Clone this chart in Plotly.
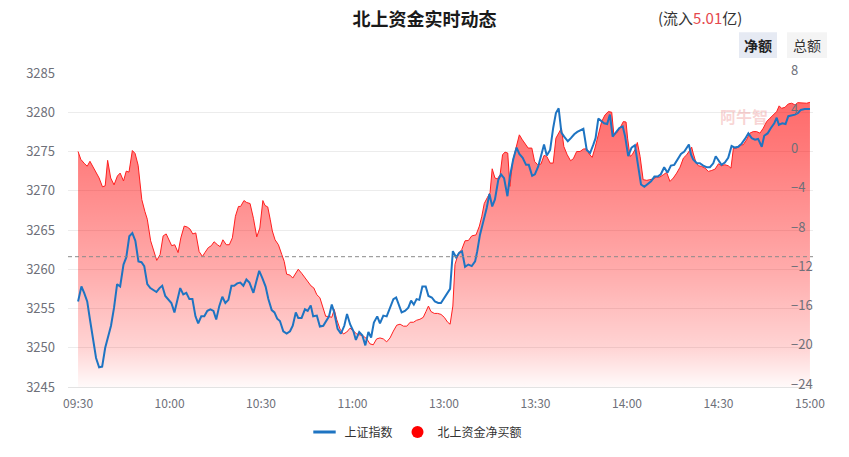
import plotly.graph_objects as go

# ---------------- data ----------------
TITLE = "北上资金实时动态"
TIME_LABELS = ["09:30", "10:00", "10:30", "11:00", "13:00", "13:30", "14:00", "14:30", "15:00"]
TICK_MIN = [0, 30, 60, 90, 120, 150, 180, 210, 240]
PREV_CLOSE = 3261.6
IDX_AXIS = [3245, 3285]
NET_AXIS = [-24, 8]

NET_MIN = [
    0.0, 0.9, 2.0, 3.0, 3.9, 4.8, 5.9, 6.9, 8.0, 8.9,
    9.7, 10.7, 11.8, 12.9, 13.8, 14.9, 15.8, 16.7, 17.8, 18.7,
    19.7, 20.9, 21.9, 22.7, 23.8, 24.9, 25.8, 26.9, 27.9, 28.9,
    29.8, 30.7, 31.7, 32.8, 33.7, 34.8, 35.8, 36.7, 37.6, 38.6,
    39.7, 40.8, 41.6, 42.7, 43.7, 44.6, 45.7, 46.6, 47.5, 48.6,
    49.6, 50.6, 51.6, 52.6, 53.3, 54.4, 55.3, 56.4, 57.5, 58.6,
    59.6, 60.6, 61.3, 62.2, 63.0, 63.7, 64.6, 65.7, 66.8, 67.6,
    68.4, 69.5, 70.4, 71.4, 72.2, 73.3, 74.4, 75.5, 76.4, 77.3,
    78.3, 79.3, 80.2, 81.2, 82.1, 83.2, 84.0, 84.8, 85.9, 87.0,
    88.1, 89.2, 90.3, 91.4, 92.5, 93.5, 94.7, 95.7, 96.8, 97.9,
    99.0, 100.1, 101.2, 102.3, 103.4, 104.5, 105.6, 106.7, 107.8, 108.9,
    110.0, 111.0, 112.1, 113.2, 114.1, 114.9, 115.7, 116.8, 117.9, 119.0,
    120.1, 121.2, 122.0, 122.9, 123.6, 124.7, 125.8, 126.9, 128.0, 129.1,
    130.5, 131.6, 132.4, 133.2, 134.2, 135.1, 135.8, 136.7, 137.5, 138.4,
    139.2, 140.0, 140.9, 141.6, 142.5, 143.6, 144.7, 145.7, 146.7, 147.6,
    148.8, 149.7, 150.7, 151.8, 152.8, 153.7, 154.8, 155.8, 156.7, 157.7,
    158.5, 159.3, 160.4, 161.5, 162.4, 163.5, 164.6, 165.7, 166.8, 167.6,
    168.6, 169.5, 170.6, 171.7, 172.8, 173.9, 175.0, 175.7, 176.6, 177.7,
    178.8, 179.7, 180.2, 181.0, 181.7, 182.6, 183.4, 184.3, 185.3, 186.5,
    187.5, 188.6, 189.7, 190.8, 191.9, 193.0, 194.1, 195.2, 196.3, 197.4,
    198.5, 199.6, 200.7, 201.2, 201.7, 202.5, 203.4, 204.5, 205.6, 206.7,
    207.8, 208.9, 210.0, 211.0, 212.1, 213.2, 214.1, 214.9, 216.0, 217.0,
    218.1, 219.2, 220.3, 221.4, 222.5, 223.6, 224.7, 225.8, 226.9, 228.0,
    229.1, 229.9, 230.7, 231.8, 232.9, 234.0, 235.1, 236.0, 237.3, 238.9,
    240.0,
]
NET_VAL = [
    0.0, -0.8, -1.2, -1.5, -1.0, -1.5, -2.0, -2.7, -3.6, -3.5,
    -0.9, -2.7, -3.4, -2.5, -2.2, -3.0, -2.0, -2.1, 0.1, -0.2,
    -1.4, -4.9, -6.1, -6.9, -9.1, -10.3, -11.1, -10.5, -8.6, -8.4,
    -9.1, -9.6, -9.5, -10.3, -8.8, -7.6, -7.7, -7.9, -8.4, -8.3,
    -10.2, -10.7, -10.3, -9.8, -9.6, -9.2, -9.5, -9.7, -9.0, -9.5,
    -9.5, -8.8, -6.6, -5.6, -5.6, -5.0, -5.2, -5.3, -6.8, -8.7,
    -7.8, -5.0, -5.5, -5.65, -6.9, -8.1, -9.0, -9.5, -10.5, -11.2,
    -12.5, -12.6, -12.9, -12.4, -12.0, -12.4, -12.9, -13.4, -13.7, -13.9,
    -14.6, -14.9, -15.75, -16.8, -16.8, -16.9, -16.1, -17.1, -18.1, -18.6,
    -18.4, -18.0, -18.3, -18.6, -18.7, -18.8, -19.1, -19.6, -19.7, -19.1,
    -19.0, -19.1, -19.4, -19.0, -18.3, -17.7, -17.6, -17.8, -17.8, -17.4,
    -17.4, -17.2, -17.1, -16.9, -16.3, -15.75, -16.3, -16.5, -16.5, -16.6,
    -16.9, -17.4, -17.6, -15.75, -11.5, -10.4, -10.0, -9.1, -9.07, -8.6,
    -8.5, -7.6, -6.6, -5.3, -4.7, -4.2, -1.76, -2.7, -2.8, -2.37,
    -0.33, -0.06, -0.16, -3.56, -1.01, 0.35, 1.7, 1.19, 0.68, 0.35,
    0.35, -1.01, -1.35, -1.28, -0.4, -0.5, -1.18, -1.18, 1.36, 1.97,
    2.38, 0.5, -0.33, -0.94, -0.74, 0.0, 0.0, 0.25, 0.28, -0.26,
    -0.6, 0.35, 1.7, 3.05, 3.73, 4.07, 4.0, 1.7, 1.87, 2.38,
    3.05, 3.0, 1.36, -0.5, -0.33, 0.18, 0.92, -0.5, -2.87, -2.94,
    -2.87, -2.8, -2.6, -2.6, -2.37, -2.13, -3.05, -2.7, -2.2, -1.6,
    -0.67, -0.33, 0.18, 0.45, -0.16, -1.0, -1.45, -1.52, -1.7, -2.03,
    -1.93, -1.79, -1.25, -1.45, -1.35, -1.45, -1.7, 0.35, 0.35, 0.68,
    0.68, 1.19, 1.87, 2.03, 2.03, 1.87, 2.38, 3.05, 3.4, 3.73,
    4.07, 4.65, 4.4, 4.5, 4.85, 4.92, 4.75, 4.98, 4.92, 4.92,
    5.01,
]

IDX_MIN = [
    0.0, 1.1, 2.0, 3.0, 3.9, 4.9, 5.9, 6.9, 7.9, 8.9,
    9.8, 10.8, 11.8, 12.8, 13.8, 14.9, 15.8, 16.8, 17.8, 18.8,
    19.8, 20.8, 21.7, 22.7, 23.7, 24.7, 25.7, 26.7, 27.6, 28.6,
    29.6, 30.6, 31.6, 32.6, 33.5, 34.5, 35.5, 36.5, 37.5, 38.5,
    39.4, 40.4, 41.4, 42.4, 43.4, 44.4, 45.3, 46.3, 47.3, 48.3,
    49.3, 50.3, 51.2, 52.2, 53.2, 54.2, 55.2, 56.2, 57.5, 58.5,
    59.4, 60.4, 61.5, 62.4, 63.5, 64.4, 65.3, 66.2, 67.3, 68.4,
    69.5, 70.4, 71.4, 72.2, 73.3, 74.4, 75.3, 76.3, 77.1, 78.3,
    79.3, 80.4, 81.3, 82.3, 83.2, 84.0, 85.1, 86.2, 87.3, 88.2,
    89.2, 90.3, 91.1, 92.2, 93.2, 94.2, 95.2, 96.1, 97.0, 98.1,
    99.0, 100.1, 101.2, 102.3, 103.4, 104.3, 105.2, 106.1, 107.2, 108.3,
    109.2, 110.1, 111.0, 111.9, 112.9, 114.0, 114.9, 116.0, 117.0, 118.1,
    119.0, 120.1, 121.2, 122.0, 122.9, 124.0, 125.0, 125.9, 126.9, 128.0,
    129.1, 130.2, 130.9, 131.8, 132.9, 134.0, 134.9, 135.8, 136.7, 137.8,
    138.7, 139.7, 140.8, 141.6, 142.7, 143.8, 144.7, 145.8, 146.9, 147.8,
    148.9, 149.8, 150.9, 151.8, 152.8, 153.7, 154.8, 155.8, 156.7, 157.6,
    158.5, 159.4, 160.6, 161.6, 162.7, 163.7, 164.6, 165.7, 166.8, 167.9,
    169.0, 169.7, 170.6, 171.5, 172.5, 173.5, 174.4, 175.3, 176.4, 177.5,
    178.6, 179.4, 180.4, 181.5, 182.6, 183.7, 184.6, 185.7, 186.8, 187.9,
    189.0, 190.1, 191.1, 192.2, 193.3, 194.4, 195.5, 196.6, 197.7, 198.8,
    199.6, 200.3, 201.0, 201.7, 202.9, 203.9, 205.0, 206.1, 207.2, 208.3,
    209.1, 210.0, 211.0, 212.1, 213.2, 214.3, 215.4, 216.5, 217.6, 218.7,
    219.8, 220.9, 222.0, 223.0, 224.2, 225.0, 226.1, 227.2, 228.3, 229.1,
    229.8, 230.9, 232.0, 232.9, 234.0, 235.1, 236.1, 237.0, 238.3, 240.0,
]
IDX_VAL = [
    3255.9, 3257.8, 3257.0, 3255.9, 3253.6, 3251.1, 3248.7, 3247.5, 3247.6, 3250.0,
    3251.3, 3252.8, 3255.1, 3258.1, 3257.8, 3260.6, 3261.5, 3264.2, 3264.6, 3263.6,
    3261.0, 3260.9, 3260.4, 3258.1, 3257.6, 3257.3, 3257.1, 3257.6, 3257.9, 3256.6,
    3256.2, 3255.7, 3254.5, 3256.2, 3257.6, 3256.8, 3257.0, 3256.2, 3256.2, 3254.0,
    3253.1, 3254.0, 3254.0, 3254.7, 3254.9, 3254.7, 3253.6, 3255.3, 3256.5, 3255.7,
    3256.1, 3257.9, 3257.9, 3258.2, 3258.3, 3257.9, 3258.7, 3258.3, 3257.0, 3258.5,
    3259.8, 3258.9, 3257.8, 3256.2, 3254.8, 3254.5, 3253.7, 3253.4, 3252.1, 3251.8,
    3252.1, 3252.8, 3254.5, 3253.8, 3253.8, 3254.9, 3254.7, 3255.4, 3254.0, 3254.1,
    3252.7, 3252.8, 3253.3, 3254.0, 3255.5, 3254.5, 3252.4, 3251.8, 3252.8, 3254.3,
    3253.0, 3252.1, 3251.0, 3252.0, 3251.6, 3250.3, 3252.0, 3251.3, 3253.2, 3254.0,
    3253.1, 3254.1, 3254.0, 3255.0, 3256.2, 3256.4, 3255.5, 3254.5, 3254.7, 3255.1,
    3256.0, 3255.5, 3256.2, 3256.1, 3257.8, 3257.8, 3256.6, 3256.4, 3255.9, 3255.7,
    3255.7, 3256.4, 3257.0, 3257.5, 3262.3, 3261.5, 3262.1, 3262.3, 3260.3, 3260.6,
    3260.4, 3261.0, 3262.3, 3264.4, 3266.1, 3267.8, 3269.6, 3268.0, 3268.9, 3271.4,
    3272.1, 3271.6, 3269.3, 3271.8, 3274.0, 3275.5, 3274.7, 3274.2, 3273.3, 3273.3,
    3271.9, 3272.1, 3273.1, 3274.6, 3275.9, 3274.5, 3275.2, 3278.0, 3279.9, 3280.5,
    3277.4, 3276.9, 3276.3, 3276.7, 3277.2, 3277.5, 3277.7, 3277.9, 3275.2, 3274.8,
    3275.9, 3276.7, 3279.2, 3278.9, 3278.6, 3278.5, 3279.7, 3276.9, 3277.4, 3278.0,
    3278.2, 3276.9, 3274.4, 3275.5, 3275.8, 3273.1, 3270.8, 3270.5, 3270.8, 3271.2,
    3271.8, 3271.8, 3272.1, 3273.0, 3272.3, 3273.2, 3273.3, 3274.1, 3274.7, 3275.0,
    3275.5, 3275.9, 3274.6, 3274.0, 3273.5, 3273.5, 3273.2, 3273.0, 3273.0, 3273.5,
    3274.4, 3273.8, 3273.3, 3273.6, 3274.2, 3275.7, 3275.5, 3275.6, 3276.0, 3276.6,
    3277.3, 3276.7, 3276.5, 3276.6, 3275.6, 3277.0, 3277.3, 3278.0, 3278.6, 3279.3,
    3278.4, 3278.6, 3278.5, 3279.5, 3279.6, 3279.7, 3279.9, 3280.3, 3280.4, 3280.4,
]

# ---------------- geometry helpers ----------------
W, H = 849, 457
ML, MR, MT, MB = 68, 36, 73, 69
PW, PH = W - ML - MR, H - MT - MB


def px_x(px):
    return (px - ML) / PW


def px_y(py):
    return (H - MB - py) / PH


FONT = "Noto Sans CJK SC, Microsoft YaHei, sans-serif"
BLUE = "#1e74c2"
RED = "#ff1f1f"
TICK_COLOR = "#6e7079"

fig = go.Figure()

# baseline for the gradient fill
fig.add_trace(go.Scatter(
    x=[NET_MIN[0], NET_MIN[-1]], y=[NET_AXIS[0], NET_AXIS[0]],
    mode="lines", line=dict(width=0), showlegend=False, hoverinfo="skip", yaxis="y",
))

# net buy series (area)
fig.add_trace(go.Scatter(
    x=NET_MIN, y=NET_VAL, mode="lines", name="北上资金净买额",
    line=dict(color=RED, width=1),
    fill="tonexty",
    fillgradient=dict(
        type="vertical",
        start=NET_AXIS[0], stop=NET_AXIS[1],
        colorscale=[
            [0.0, "rgba(255,0,0,0.02)"],
            [0.125, "rgba(255,0,0,0.17)"],
            [0.375, "rgba(255,0,0,0.33)"],
            [0.75, "rgba(255,0,0,0.52)"],
            [1.0, "rgba(255,0,0,0.62)"],
        ],
    ),
    showlegend=False, yaxis="y",
))

# index series
fig.add_trace(go.Scatter(
    x=IDX_MIN, y=IDX_VAL, mode="lines", name="上证指数",
    line=dict(color=BLUE, width=2), showlegend=False, yaxis="y2",
))

# legend entries
fig.add_trace(go.Scatter(
    x=[None], y=[None], mode="markers", name="上证指数", legendrank=1,
    marker=dict(symbol="line-ew", size=16, line=dict(width=3, color=BLUE)),
))
fig.add_trace(go.Scatter(
    x=[None], y=[None], mode="markers", name="北上资金净买额", legendrank=2,
    marker=dict(symbol="circle", size=12, color="#ff0000"),
))

shapes = [
    dict(type="line", xref="paper", x0=0, x1=1, yref="y2", y0=PREV_CLOSE, y1=PREV_CLOSE,
         line=dict(color="#8a8a8a", width=1, dash="4px,3px"), layer="above"),
    dict(type="rect", xref="paper", yref="paper",
         x0=px_x(739), x1=px_x(777), y0=px_y(58), y1=px_y(32),
         fillcolor="#e6eaf3", line=dict(width=0)),
    dict(type="rect", xref="paper", yref="paper",
         x0=px_x(787), x1=px_x(827), y0=px_y(58), y1=px_y(32),
         fillcolor="#f4f4f4", line=dict(width=0)),
]

annotations = [
    dict(xref="paper", yref="paper", x=px_x(758), y=px_y(45), text="<b>净额</b>",
         showarrow=False, font=dict(size=14, color="#222", family=FONT),
         xanchor="center", yanchor="middle"),
    dict(xref="paper", yref="paper", x=px_x(807), y=px_y(45), text="总额",
         showarrow=False, font=dict(size=14, color="#333", family=FONT),
         xanchor="center", yanchor="middle"),
    dict(xref="paper", yref="paper", x=px_x(700), y=px_y(17),
         text=f"(流入<span style='color:#e5484d'>{NET_VAL[-1]:.2f}</span>亿)",
         showarrow=False, font=dict(size=15, color="#333", family=FONT),
         xanchor="center", yanchor="middle"),
    # faint watermark
    dict(xref="paper", yref="paper", x=px_x(744), y=px_y(116), text="<b>阿牛智</b>",
         showarrow=False, font=dict(size=16, color="rgba(240,160,160,0.45)", family=FONT),
         xanchor="center", yanchor="middle"),
]

fig.update_layout(
    width=W, height=H,
    margin=dict(l=ML, r=MR, t=MT, b=MB, pad=0),
    paper_bgcolor="white", plot_bgcolor="white",
    title=dict(text=f"<b>{TITLE}</b>", x=0.5, xref="container", xanchor="center",
               y=1 - 20 / H, yref="container", yanchor="middle",
               font=dict(size=18, color="#1a1a1a", family=FONT)),
    font=dict(family=FONT),
    xaxis=dict(
        range=[-3.3, 241], tickmode="array", tickvals=TICK_MIN, ticktext=TIME_LABELS,
        showgrid=False, zeroline=False, showline=True, linecolor="#e3e3e3", linewidth=1,
        ticks="", tickfont=dict(size=12, color=TICK_COLOR, family=FONT),
        ticklabelstandoff=6,
    ),
    yaxis=dict(
        range=NET_AXIS, tick0=0, dtick=4, side="right", anchor="free", position=px_x(790),
        showgrid=True, gridcolor="#ececec", gridwidth=1, zeroline=False, showline=False,
        ticks="", tickfont=dict(size=13, color=TICK_COLOR, family=FONT),
        ticklabelshift=-3,
    ),
    yaxis2=dict(
        range=IDX_AXIS, tick0=3245, dtick=5, side="left", overlaying="y", anchor="x",
        showgrid=False, zeroline=False, showline=False, ticks="",
        tickfont=dict(size=13, color=TICK_COLOR, family=FONT),
        ticklabelstandoff=12,
    ),
    showlegend=True,
    legend=dict(orientation="h", x=px_x(416), xanchor="center", y=px_y(432), yanchor="middle",
                font=dict(size=12, color="#333", family=FONT), bgcolor="rgba(0,0,0,0)",
                itemwidth=30, traceorder="normal"),
    shapes=shapes,
    annotations=annotations,
)

fig.write_html("out.html", config={"displayModeBar": False})
